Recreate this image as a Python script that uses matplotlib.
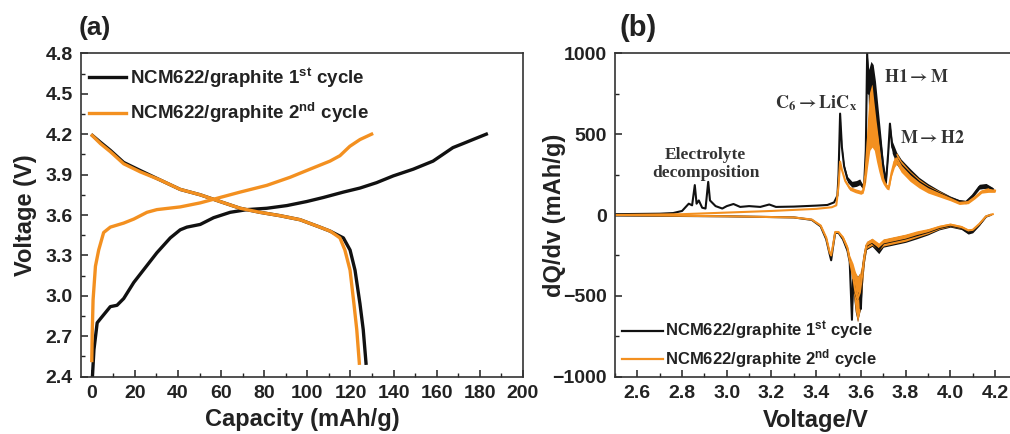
import numpy as np
import matplotlib
matplotlib.use("Agg")
import matplotlib.pyplot as plt
from matplotlib.ticker import MultipleLocator, FormatStrFormatter

plt.rcParams['font.family'] = ['Liberation Sans', 'DejaVu Sans']
plt.rcParams['font.weight'] = 'bold'
plt.rcParams['mathtext.fontset'] = 'custom'
plt.rcParams['mathtext.rm'] = 'Liberation Sans:bold'
plt.rcParams['mathtext.it'] = 'Liberation Sans:bold'
plt.rcParams['mathtext.bf'] = 'Liberation Sans:bold'

BLACK = '#111111'
ORANGE = '#F39020'
TXT = '#222222'

# ---- panel (a): voltage profiles ----
chg1_cap = [0.3, 1.0, 2.5, 4.0, 8.6, 11.7, 14.8, 19.5, 30.2, 36.4, 41.0, 44.1, 50.3, 56.5,
            64.2, 72.0, 81.2, 90.5, 99.7, 107.4, 116.7, 124.4, 132.1, 139.8, 149.1, 158.3,
            162.9, 167.5, 172.2, 176.8, 183.0]
chg1_v = [2.40, 2.60, 2.80, 2.83, 2.92, 2.93, 2.98, 3.10, 3.32, 3.43, 3.49, 3.51, 3.53, 3.58,
          3.62, 3.64, 3.65, 3.67, 3.70, 3.73, 3.77, 3.80, 3.84, 3.89, 3.94, 4.00,
          4.05, 4.10, 4.13, 4.16, 4.20]

dis1_cap = [0.3, 4.0, 8.6, 14.8, 22.5, 31.7, 41.0, 50.3, 59.5, 68.8, 78.0, 87.3, 96.6,
            105.8, 110.6, 116.7, 119.8, 122.1, 124.4, 125.9, 127.2]
dis1_v = [4.19, 4.14, 4.08, 3.99, 3.93, 3.86, 3.79, 3.75, 3.70, 3.65, 3.62, 3.595, 3.565,
          3.51, 3.48, 3.43, 3.34, 3.19, 2.94, 2.75, 2.50]

chg2_cap = [0.0, 0.2, 0.6, 1.7, 3.2, 5.5, 8.6, 14.8, 19.5, 25.6, 30.2, 41.0, 50.3, 59.5,
            68.8, 81.2, 92.0, 101.2, 110.5, 115.1, 119.7, 124.4, 129.8]
chg2_v = [2.52, 2.72, 2.97, 3.22, 3.34, 3.47, 3.51, 3.54, 3.57, 3.62, 3.64, 3.66, 3.69, 3.73,
          3.77, 3.82, 3.88, 3.94, 4.00, 4.04, 4.11, 4.16, 4.20]

dis2_cap = [0.2, 4.0, 8.6, 14.8, 22.5, 31.7, 41.0, 50.3, 59.5, 68.8, 78.0, 87.3, 96.6,
            105.8, 110.6, 115.1, 117.4, 119.8, 121.6, 122.9, 124.1]
dis2_v = [4.19, 4.13, 4.07, 3.98, 3.92, 3.86, 3.79, 3.75, 3.70, 3.65, 3.62, 3.595, 3.565,
          3.51, 3.48, 3.43, 3.34, 3.19, 2.94, 2.75, 2.50]

# ---- panel (b): dQ/dV, centre line and noise half-width ----
c1_v = [2.50, 2.70, 2.76, 2.80, 2.83, 2.845, 2.857, 2.865, 2.875, 2.89, 2.905, 2.917, 2.925,
        2.95, 2.98, 3.00, 3.03, 3.06, 3.10, 3.15, 3.19, 3.22, 3.30, 3.40, 3.45, 3.48, 3.495,
        3.50, 3.507, 3.515, 3.525, 3.54, 3.56, 3.58, 3.595, 3.608, 3.615, 3.622, 3.628,
        3.635, 3.645, 3.655, 3.665, 3.675, 3.69, 3.70, 3.712, 3.722, 3.73, 3.74, 3.76,
        3.78, 3.82, 3.86, 3.90, 3.95, 4.00, 4.04, 4.07, 4.10, 4.13, 4.16, 4.19]
c1_q = [5, 8, 12, 25, 70, 60, 185, 70, 90, 45, 40, 205, 90,
        55, 40, 55, 68, 50, 55, 50, 65, 50, 52, 58, 62, 78, 120,
        250, 627, 420, 300, 220, 190, 195, 205, 175, 200, 400, 1000,
        750, 800, 830, 700, 580, 420, 300, 200, 380, 565, 420, 350,
        310, 255, 205, 170, 135, 105, 85, 80, 120, 175, 180, 160]
c1_w = [0, 0, 0, 0, 0, 0, 0, 0, 0, 0, 0, 0, 0,
        0, 0, 0, 0, 0, 0, 0, 0, 0, 0, 0, 0, 0, 0,
        0, 0, 10, 12, 18, 18, 18, 18, 12, 20, 50, 0,
        150, 150, 100, 130, 110, 60, 30, 15, 15, 0, 38, 38,
        35, 32, 28, 24, 18, 12, 10, 10, 12, 15, 15, 10]

c2_v = [2.50, 2.80, 3.00, 3.20, 3.40, 3.47, 3.49, 3.50, 3.507, 3.515, 3.53, 3.55, 3.575,
        3.60, 3.61, 3.62, 3.63, 3.64, 3.65, 3.66, 3.67, 3.68, 3.69, 3.70, 3.715, 3.725,
        3.737, 3.75, 3.76, 3.78, 3.82, 3.86, 3.90, 3.95, 4.00, 4.04, 4.08, 4.11, 4.14,
        4.17, 4.20]
c2_q = [0, 5, 15, 25, 38, 48, 60, 180, 330, 280, 210, 165, 150,
        140, 150, 250, 450, 600, 620, 580, 480, 370, 280, 220, 175, 170,
        260, 330, 350, 300, 240, 195, 160, 130, 100, 75, 80, 110, 145,
        155, 150]
c2_w = [0, 0, 0, 0, 0, 0, 0, 0, 0, 0, 8, 12, 12,
        12, 15, 60, 150, 200, 200, 180, 150, 100, 60, 30, 15, 15,
        20, 35, 35, 35, 32, 28, 24, 18, 12, 10, 10, 10, 10,
        15, 10]

d1_v = [2.50, 3.00, 3.30, 3.38, 3.42, 3.445, 3.46, 3.467, 3.475, 3.485, 3.50, 3.52, 3.54,
        3.55, 3.56, 3.565, 3.575, 3.585, 3.595, 3.60, 3.605, 3.615, 3.625, 3.65, 3.68,
        3.70, 3.75, 3.80, 3.85, 3.90, 3.95, 4.00, 4.05, 4.08, 4.10, 4.13, 4.16, 4.18]
d1_q = [-3, -8, -15, -30, -70, -150, -240, -280, -200, -110, -110, -150, -220,
        -290, -648, -400, -480, -520, -480, -580, -380, -260, -190, -170, -215,
        -175, -160, -145, -125, -105, -80, -65, -80, -108, -100, -60, -10, 0]
d1_w = [0, 0, 0, 0, 0, 0, 0, 0, 0, 0, 0, 10, 18,
        30, 0, 80, 120, 140, 120, 0, 80, 40, 24, 24, 24,
        24, 24, 24, 22, 18, 12, 10, 10, 10, 10, 5, 0, 0]

d2_v = [2.50, 3.00, 3.30, 3.38, 3.42, 3.445, 3.46, 3.467, 3.475, 3.485, 3.50, 3.52, 3.54,
        3.55, 3.565, 3.575, 3.585, 3.595, 3.605, 3.615, 3.625, 3.65, 3.68, 3.70, 3.75,
        3.80, 3.85, 3.90, 3.95, 4.00, 4.05, 4.08, 4.10, 4.13, 4.16, 4.19]
d2_q = [0, -8, -15, -28, -65, -140, -230, -250, -190, -105, -105, -140, -205,
        -280, -380, -470, -520, -480, -380, -260, -185, -165, -195, -170, -155,
        -140, -118, -100, -75, -60, -75, -95, -92, -55, -8, 5]
d2_w = [0, 0, 0, 0, 0, 0, 0, 0, 0, 0, 0, 10, 15,
        30, 80, 120, 140, 120, 80, 40, 22, 22, 22, 22, 22,
        22, 20, 16, 12, 10, 10, 8, 8, 5, 0, 0]

lab1 = 'NCM622/graphite 1$^{st}$ cycle'
lab2 = 'NCM622/graphite 2$^{nd}$ cycle'

fig = plt.figure(figsize=(10.10, 4.34), dpi=100)
ax1 = fig.add_axes([0.0802, 0.132, 0.4376, 0.7452])
ax2 = fig.add_axes([0.6089, 0.132, 0.3984, 0.7452])

# (a)
ax1.plot(chg1_cap, chg1_v, color=BLACK, lw=2.4, label=lab1)
ax1.plot(dis1_cap, dis1_v, color=BLACK, lw=2.4)
ax1.plot(chg2_cap, chg2_v, color=ORANGE, lw=2.4, label=lab2)
ax1.plot(dis2_cap, dis2_v, color=ORANGE, lw=2.4)
ax1.set_xlim(-5, 200)
ax1.set_ylim(2.4, 4.8)
ax1.xaxis.set_major_locator(MultipleLocator(20))
ax1.xaxis.set_minor_locator(MultipleLocator(10))
ax1.yaxis.set_major_locator(MultipleLocator(0.3))
ax1.yaxis.set_minor_locator(MultipleLocator(0.15))
ax1.yaxis.set_major_formatter(FormatStrFormatter('%.1f'))
ax1.set_xlabel('Capacity (mAh/g)', fontsize=17, fontweight='bold', color=TXT, labelpad=4)
ax1.set_ylabel('Voltage (V)', fontsize=17, fontweight='bold', color=TXT, labelpad=6)
leg1 = ax1.legend(loc='upper left', bbox_to_anchor=(0.0, 0.985), frameon=False,
                  fontsize=13.5, handlelength=2.0, handletextpad=0.2, labelspacing=0.6,
                  borderpad=0.2, borderaxespad=0.2)
for t in leg1.get_texts():
    t.set_color(TXT)
ax1.text(-0.005, 1.04, '(a)', transform=ax1.transAxes, fontsize=19, fontweight='bold',
         color=TXT, ha='left', va='bottom')

# (b)
for v, q, w, col in [(c1_v, c1_q, c1_w, BLACK), (d1_v, d1_q, d1_w, BLACK),
                     (c2_v, c2_q, c2_w, ORANGE), (d2_v, d2_q, d2_w, ORANGE)]:
    v = np.array(v); q = np.array(q); w = np.array(w)
    ax2.fill_between(v, q - w, q + w, color=col, lw=0)
    ax2.plot(v, q, color=col, lw=1.5)
ax2.plot([], [], color=BLACK, lw=1.6, label=lab1)
ax2.plot([], [], color=ORANGE, lw=1.6, label=lab2)
ax2.set_xlim(2.5, 4.3)
ax2.set_ylim(-1000, 1000)
ax2.xaxis.set_major_locator(MultipleLocator(0.2))
ax2.xaxis.set_minor_locator(MultipleLocator(0.1))
ax2.xaxis.set_major_formatter(FormatStrFormatter('%.1f'))
ax2.yaxis.set_major_locator(MultipleLocator(500))
ax2.yaxis.set_minor_locator(MultipleLocator(250))
ax2.set_xlabel('Voltage/V', fontsize=17, fontweight='bold', color=TXT, labelpad=5)
ax2.set_ylabel('dQ/dv (mAh/g)', fontsize=17, fontweight='bold', color=TXT, labelpad=-10)
leg2 = ax2.legend(loc='lower left', bbox_to_anchor=(0.0, 0.0), frameon=False,
                  fontsize=12, handlelength=2.5, handletextpad=0.1, labelspacing=0.3,
                  borderpad=0.2, borderaxespad=0.2)
for t in leg2.get_texts():
    t.set_color(TXT)
ax2.text(0.012, 1.035, '(b)', transform=ax2.transAxes, fontsize=21, fontweight='bold',
         color=TXT, ha='left', va='bottom')

serif = ['Liberation Serif', 'DejaVu Serif']
ax2.text(2.905, 315, 'Electrolyte\ndecomposition', family=serif, fontsize=12.5,
         fontweight='bold', color='#333333', ha='center', va='center', linespacing=1.1)
ax2.text(3.40, 690, r'$\mathbf{C_6 \rightarrow LiC_x}$', math_fontfamily='stix',
         fontsize=13, color='#333333', ha='center', va='center')
ax2.text(3.85, 850, r'$\mathbf{H1 \rightarrow M}$', math_fontfamily='stix',
         fontsize=13, color='#333333', ha='center', va='center')
ax2.text(3.92, 475, r'$\mathbf{M \rightarrow H2}$', math_fontfamily='stix',
         fontsize=13, color='#333333', ha='center', va='center')

for ax in (ax1, ax2):
    ax.tick_params(which='both', direction='in', top=False, right=False,
                   labelsize=14, colors=TXT, pad=6)
    ax.tick_params(which='major', length=5, width=1.1)
    ax.tick_params(which='minor', length=3, width=1.0)
    for lbl in ax.get_xticklabels() + ax.get_yticklabels():
        lbl.set_fontweight('bold')
    for s in ax.spines.values():
        s.set_linewidth(1.2)
        s.set_color('#333333')

fig.savefig('out.png', dpi=100)
